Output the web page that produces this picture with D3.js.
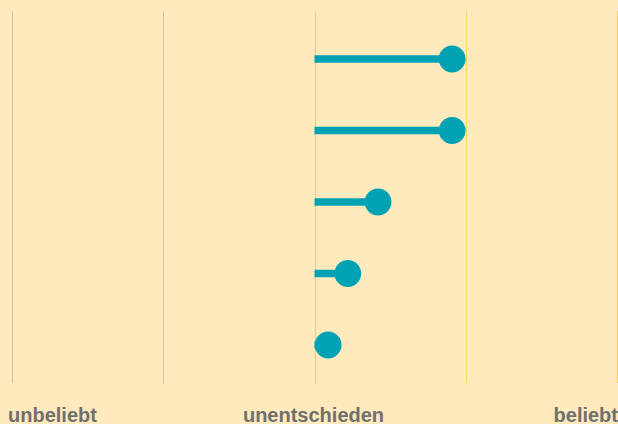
<!DOCTYPE html>
<html>
<head>
<meta charset="utf-8">
<script src="https://cdn.jsdelivr.net/npm/d3@7"></script>
<style>
  html, body { margin: 0; padding: 0; background: #feeabd; }
  svg { display: block; }
  .lbl { font-family: "Liberation Sans", Arial, sans-serif; font-weight: bold; font-size: 20px; fill: #707070; }
</style>
</head>
<body>
<svg id="chart" width="618" height="424"></svg>
<script>
const svg = d3.select("#chart"),
      width = +svg.attr("width"),
      height = +svg.attr("height");

// data
const items = ["A", "B", "C", "D", "E"];
const scores = [0.91, 0.91, 0.42, 0.22, 0.09];
const ticks = [-2, -1, 0, 1, 2];
const tickColors = ["#cdc2a8", "#d2c5a6", "#e8ca88", "#f4d36c", "#f5d158"];
const axisLabels = ["unbeliebt", "unentschieden", "beliebt"];

const x = d3.scaleLinear().domain([-2, 2]).range([12, 617]);
const y = d3.scalePoint().domain(items).range([59, 345]);

// grid lines
svg.append("g")
  .selectAll("line")
  .data(ticks)
  .enter().append("line")
  .attr("x1", d => Math.round(x(d)) + 0.5)
  .attr("x2", d => Math.round(x(d)) + 0.5)
  .attr("y1", 11)
  .attr("y2", 383)
  .attr("stroke", (d, i) => tickColors[i])
  .attr("stroke-width", 1);

const rows = items.map((d, i) => ({ name: d, value: scores[i] }));

// stems
svg.append("g")
  .selectAll("line")
  .data(rows)
  .enter().append("line")
  .attr("x1", x(0))
  .attr("x2", d => x(d.value))
  .attr("y1", d => y(d.name))
  .attr("y2", d => y(d.name))
  .attr("stroke", "#00a2b4")
  .attr("stroke-width", 7.5);

// dots
svg.append("g")
  .selectAll("circle")
  .data(rows)
  .enter().append("circle")
  .attr("cx", d => x(d.value))
  .attr("cy", d => y(d.name))
  .attr("r", 13.4)
  .attr("fill", "#00a2b4");

// labels
const labelX = [8, x(0) - 1, width];
const anchors = ["start", "middle", "end"];
svg.append("g")
  .selectAll("text")
  .data(axisLabels)
  .enter().append("text")
  .attr("class", "lbl")
  .attr("x", (d, i) => labelX[i])
  .attr("y", 422)
  .attr("text-anchor", (d, i) => anchors[i])
  .text(d => d);
</script>
</body>
</html>
